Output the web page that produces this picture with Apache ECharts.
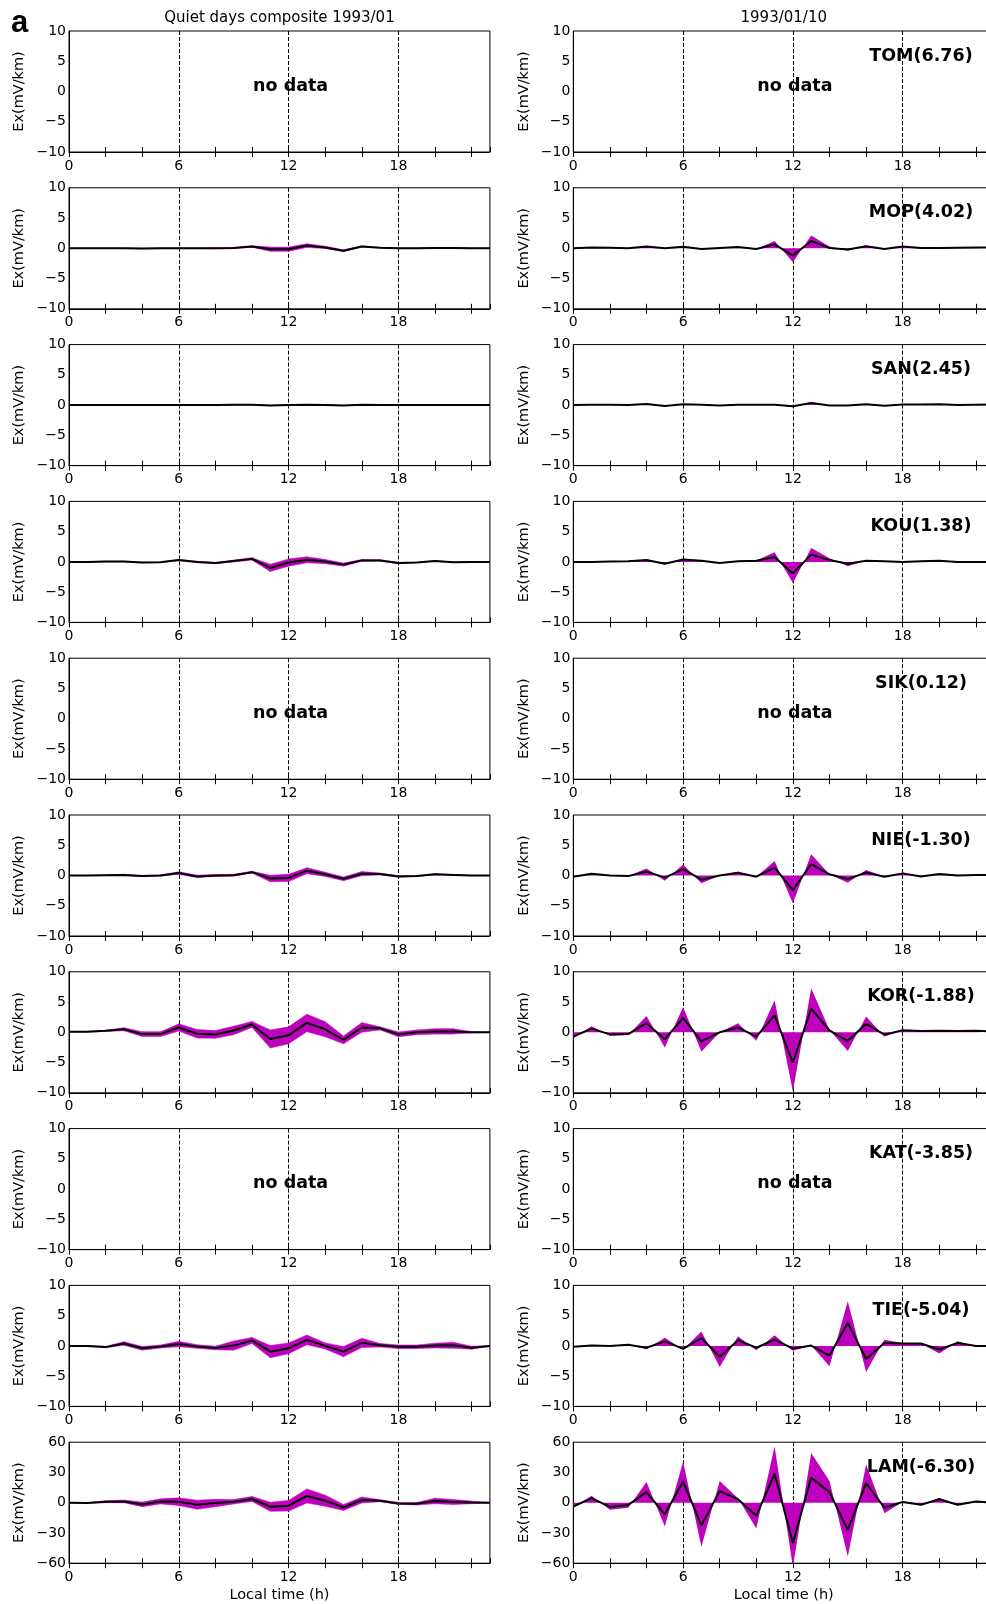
<!DOCTYPE html>
<html>
<head>
<meta charset="utf-8">
<script src="https://cdn.jsdelivr.net/npm/echarts@6/dist/echarts.min.js"></script>
<style>
  html, body { margin: 0; padding: 0; background: #fff; overflow: hidden; }
  /* the right-hand panels run past the page edge, so the canvas is wider than the page */
  #chart { width: 1000px; height: 1604px; }
</style>
</head>
<body>
<div id="chart"></div>
<script>
// Hourly Ex electric field (mV/km) at African equatorial-zone stations:
// left column = quiet-days composite for 1993/01 (mean with spread band),
// right column = the single day 1993/01/10 (hourly value plus peak fill).

const hours = [0, 1, 2, 3, 4, 5, 6, 7, 8, 9, 10, 11, 12, 13, 14, 15, 16, 17, 18, 19, 20, 21, 22, 23];
const xTickLabels = [0, 6, 12, 18];

const stations = ['TOM', 'MOP', 'SAN', 'KOU', 'SIK', 'NIE', 'KOR', 'KAT', 'TIE', 'LAM'];
const latitudes = ['6.76', '4.02', '2.45', '1.38', '0.12', '-1.30', '-1.88', '-3.85', '-5.04', '-6.30'];
const yLimits = [10, 10, 10, 10, 10, 10, 10, 10, 10, 60];

// ---- quiet-days composite: mean and half-width of the band ----
const mopQuietMean   = [0, 0, 0, 0, -0.05, 0, 0, 0, 0, 0.05, 0.3, -0.15, -0.15, 0.45, 0.15, -0.4, 0.3, 0.1, 0, 0, 0.05, 0.05, 0, 0];
const mopQuietSpread = [0.02, 0.02, 0.02, 0.02, 0.05, 0.05, 0.05, 0.05, 0.08, 0.1, 0.12, 0.35, 0.35, 0.3, 0.2, 0.15, 0.1, 0.05, 0.05, 0.05, 0.05, 0.05, 0.03, 0.02];
const sanQuietMean   = [0, 0, 0, 0, 0, 0, 0, 0, 0.02, 0.05, 0.05, -0.05, 0, 0.05, 0.02, -0.05, 0.05, 0, 0, 0, 0, 0, 0, 0];
const sanQuietSpread = [0.02, 0.02, 0.02, 0.02, 0.02, 0.02, 0.02, 0.02, 0.02, 0.02, 0.02, 0.03, 0.03, 0.03, 0.02, 0.02, 0.02, 0.02, 0.02, 0.02, 0.02, 0.02, 0.02, 0.02];
const kouQuietMean   = [0, 0, 0.05, 0.05, -0.1, -0.05, 0.3, 0, -0.2, 0.15, 0.5, -1.0, -0.1, 0.35, 0.05, -0.45, 0.25, 0.25, -0.2, -0.1, 0.15, -0.05, 0, 0];
const kouQuietSpread = [0.02, 0.02, 0.05, 0.05, 0.05, 0.05, 0.1, 0.1, 0.1, 0.15, 0.2, 0.6, 0.6, 0.5, 0.35, 0.25, 0.15, 0.1, 0.1, 0.05, 0.05, 0.05, 0.02, 0.02];
const nieQuietMean   = [0, 0, 0.05, 0.1, -0.1, 0, 0.4, -0.15, 0, 0.05, 0.55, -0.5, -0.4, 0.8, 0.2, -0.55, 0.3, 0.25, -0.15, -0.1, 0.2, 0.1, 0, 0];
const nieQuietSpread = [0.02, 0.02, 0.05, 0.1, 0.1, 0.1, 0.2, 0.2, 0.15, 0.15, 0.15, 0.55, 0.6, 0.5, 0.35, 0.3, 0.35, 0.15, 0.1, 0.05, 0.1, 0.05, 0.02, 0.02];
const korQuietMean   = [0.1, 0.1, 0.25, 0.5, -0.3, -0.3, 0.8, -0.25, -0.35, 0.3, 1.3, -1.1, -0.5, 1.55, 0.5, -1.25, 0.8, 0.65, -0.35, 0, 0.15, 0.15, 0, 0];
const korQuietSpread = [0.05, 0.05, 0.1, 0.25, 0.4, 0.4, 0.6, 0.7, 0.65, 0.7, 0.5, 1.5, 1.4, 1.45, 1.25, 0.65, 0.8, 0.25, 0.4, 0.4, 0.45, 0.45, 0.1, 0.05];
const tieQuietMean   = [0, 0, -0.2, 0.4, -0.4, -0.1, 0.3, -0.1, -0.35, 0.05, 0.9, -0.95, -0.4, 1.0, 0, -0.95, 0.5, 0.1, -0.15, -0.15, 0.05, 0.1, -0.3, 0];
const tieQuietSpread = [0.05, 0.05, 0.1, 0.3, 0.3, 0.25, 0.45, 0.3, 0.3, 0.75, 0.5, 1.0, 0.9, 0.8, 0.5, 0.85, 0.75, 0.3, 0.3, 0.3, 0.4, 0.5, 0.25, 0.05];
const lamQuietMean   = [0, -0.3, 1, 1.3, -1.7, 1.3, 1, -2, -0.3, 1, 3.7, -4, -3, 6.7, 2, -4.7, 2.7, 2, -0.7, -1, 1.7, 0.7, 0.3, 0];
const lamQuietSpread = [0.3, 0.3, 1, 1.3, 2.3, 2.5, 3.8, 4.5, 3.7, 2.2, 2.5, 4.5, 5.3, 7, 5.5, 3, 3, 1, 1, 1.3, 2.8, 2.5, 1.3, 0.3];

// ---- 1993/01/10: hourly value and peak excursion ----
const mopDayEx   = [0, 0.15, 0.1, 0, 0.3, 0, 0.25, -0.1, 0.05, 0.2, -0.1, 0.65, -1.2, 1.2, 0.05, -0.2, 0.35, -0.1, 0.3, 0.05, 0.05, 0.1, 0.15, 0.15];
const mopDayPeak = [0, 0.15, 0.1, 0, 0.3, 0, 0.3, -0.1, 0.05, 0.2, -0.1, 1.2, -2.3, 2.1, 0.3, -0.4, 0.45, -0.15, 0.3, 0.05, 0.05, 0.1, 0.15, 0.15];
const sanDayEx   = [0, 0.05, 0.05, 0, 0.2, -0.15, 0.15, 0.05, -0.05, 0.05, 0.05, 0.05, -0.2, 0.35, -0.05, -0.05, 0.15, -0.1, 0.1, 0.1, 0.15, 0, 0.05, 0.1];
const sanDayPeak = [0, 0.05, 0.05, 0, 0.2, -0.15, 0.15, 0.05, -0.05, 0.05, 0.05, 0.05, -0.35, 0.5, -0.05, -0.05, 0.15, -0.1, 0.1, 0.1, 0.15, 0, 0.05, 0.1];
const kouDayEx   = [0, 0, 0.05, 0.1, 0.3, -0.3, 0.4, 0.2, -0.2, 0.1, 0.2, 0.8, -1.9, 1.2, 0.3, -0.3, 0.2, 0.1, 0, 0.1, 0.2, 0, 0, 0];
const kouDayPeak = [0, 0, 0.05, 0.1, 0.35, -0.35, 0.45, 0.2, -0.2, 0.1, 0.25, 1.6, -3.5, 2.3, 0.6, -0.7, 0.25, 0.1, 0, 0.1, 0.2, 0, 0, 0];
const nieDayEx   = [-0.2, 0.3, 0, -0.1, 0.65, -0.35, 1.05, -0.7, 0, 0.45, -0.2, 1.3, -2.4, 1.9, 0.2, -0.6, 0.5, -0.2, 0.35, -0.15, 0.25, 0, 0.1, 0.1];
const nieDayPeak = [-0.2, 0.3, 0, -0.1, 1.15, -0.85, 1.8, -1.3, 0, 0.6, -0.2, 2.4, -4.6, 3.5, 0.2, -1.2, 0.9, -0.2, 0.35, -0.15, 0.25, 0, 0.1, 0.1];
const korDayEx   = [-0.7, 0.6, -0.35, -0.3, 1.5, -1.15, 2.4, -1.5, 0, 0.8, -0.7, 2.8, -5.0, 3.9, 0.3, -1.45, 1.4, -0.4, 0.35, 0.2, 0.25, 0.2, 0.25, 0.15];
const korDayPeak = [-1.0, 1.0, -0.55, -0.45, 2.7, -2.5, 4.2, -3.2, 0, 1.5, -1.4, 5.3, -9.8, 7.3, 0.4, -3.1, 2.6, -0.7, 0.35, 0.2, 0.25, 0.2, 0.25, 0.15];
const tieDayEx   = [-0.15, 0.05, 0, 0.2, -0.3, 0.75, -0.5, 1.3, -1.8, 0.95, -0.3, 1.05, -0.45, 0.05, -1.6, 3.8, -2.15, 0.5, 0.4, 0.4, -0.6, 0.5, 0, 0];
const tieDayPeak = [-0.15, 0.05, 0, 0.2, -0.55, 1.35, -0.6, 2.4, -3.5, 1.6, -0.7, 1.75, -0.8, 0.05, -3.35, 7.4, -4.3, 1.0, 0.5, 0.4, -1.25, 0.75, 0, 0];
const lamDayEx   = [-3.8, 4.5, -4.2, -2.2, 10.5, -11.5, 21, -22.5, 11.5, 3.5, -13, 28.7, -40, 24.8, 10.5, -27, 19.5, -5, 0.8, -2, 3.5, -2, 1.2, 0];
const lamDayPeak = [-5, 7, -7, -5, 20.5, -23.7, 40.5, -43.8, 21.5, 4.5, -25.5, 56, -64, 49.3, 21.5, -53.3, 38, -10.5, 0.8, -2, 4.8, -2.5, 1.2, 0];

// station order -> series (null = no data)
const quietMeans   = [null, mopQuietMean, sanQuietMean, kouQuietMean, null, nieQuietMean, korQuietMean, null, tieQuietMean, lamQuietMean];
const quietSpreads = [null, mopQuietSpread, sanQuietSpread, kouQuietSpread, null, nieQuietSpread, korQuietSpread, null, tieQuietSpread, lamQuietSpread];
const dayValues    = [null, mopDayEx, sanDayEx, kouDayEx, null, nieDayEx, korDayEx, null, tieDayEx, lamDayEx];
const dayPeaks     = [null, mopDayPeak, sanDayPeak, kouDayPeak, null, nieDayPeak, korDayPeak, null, tieDayPeak, lamDayPeak];

// ---- layout ----
const FONT = 'DejaVu Sans';
const MAGENTA = '#bf00bf';
const ROW_TOP0 = 31, ROW_STEP = 156.8, PANEL_H = 121;
const PX_PER_HOUR = 18.3;
const PANEL_W = 23 * PX_PER_HOUR;
const COL_LEFT = [69, 573.3];

const minus = v => (v < 0 ? '\u2212' + Math.abs(v) : String(v));
const pairs = arr => hours.map((h, i) => [h, arr[i]]);

// band between lower and upper curves, one quadrilateral per hour step
function bandItem(params, api) {
  const a = api.coord([api.value(0), api.value(2)]);
  const b = api.coord([api.value(3), api.value(5)]);
  const c = api.coord([api.value(3), api.value(4)]);
  const d = api.coord([api.value(0), api.value(1)]);
  return { type: 'polygon', shape: { points: [a, b, c, d] },
    style: { fill: MAGENTA, stroke: MAGENTA, lineWidth: 0.5 } };
}

const grid = [], xAxis = [], yAxis = [], series = [], graphic = [];

stations.forEach((name, r) => {
  const top = ROW_TOP0 + ROW_STEP * r;
  const lim = yLimits[r];
  for (let c = 0; c < 2; c++) {
    const g = r * 2 + c;
    const left = COL_LEFT[c];
    grid.push({ left: left, top: top, width: PANEL_W, height: PANEL_H,
      show: true, borderColor: '#000', borderWidth: 1, backgroundColor: 'transparent' });

    // labelled axis with outward ticks every 2 h
    xAxis.push({ gridIndex: g, type: 'value', min: 0, max: 23, interval: 2, position: 'bottom',
      axisLine: { show: true, onZero: false, lineStyle: { color: '#000', width: 1 } },
      axisTick: { show: true, inside: false, length: 5, lineStyle: { color: '#000', width: 1 } },
      axisLabel: { show: true, margin: 7, fontFamily: FONT, fontSize: 14, color: '#000',
        showMaxLabel: false,
        formatter: v => (xTickLabels.indexOf(v) >= 0 ? minus(v) : '') },
      splitLine: { show: false } });
    // inward half of the ticks
    xAxis.push({ gridIndex: g, type: 'value', min: 0, max: 23, interval: 2, position: 'bottom',
      axisLine: { show: false, onZero: false },
      axisTick: { show: true, inside: true, length: 5, lineStyle: { color: '#000', width: 1 } },
      axisLabel: { show: false }, splitLine: { show: false } });
    // dashed guide lines at 0, 6, 12, 18 h
    xAxis.push({ gridIndex: g, type: 'value', min: 0, max: 23, interval: 6, position: 'bottom',
      axisLine: { show: false, onZero: false }, axisTick: { show: false }, axisLabel: { show: false },
      splitLine: { show: true, showMaxLine: false, lineStyle: { color: '#000', width: 1, type: [4, 2] } } });

    yAxis.push({ gridIndex: g, type: 'value', min: -lim, max: lim, interval: lim / 2,
      axisLine: { show: true, onZero: false, lineStyle: { color: '#000', width: 1 } },
      axisTick: { show: false },
      axisLabel: { margin: 3, fontFamily: FONT, fontSize: 14, color: '#000', formatter: minus },
      splitLine: { show: false },
      name: 'Ex(mV/km)', nameLocation: 'middle', nameGap: 42,
      nameTextStyle: { fontFamily: FONT, fontSize: 14.5, color: '#000' } });

    const xi = g * 3;
    if (c === 0) {
      const mean = quietMeans[r], spread = quietSpreads[r];
      if (mean) {
        const lower = mean.map((m, i) => m - spread[i]);
        const upper = mean.map((m, i) => m + spread[i]);
        const steps = hours.slice(0, -1).map((h, i) =>
          [h, lower[i], upper[i], hours[i + 1], lower[i + 1], upper[i + 1]]);
        series.push({ type: 'custom', xAxisIndex: xi, yAxisIndex: g, silent: true, z: 2,
          data: steps, encode: { x: [0, 3], y: [1, 2, 4, 5] }, renderItem: bandItem });
        series.push({ type: 'line', xAxisIndex: xi, yAxisIndex: g, data: pairs(mean), symbol: 'none',
          lineStyle: { color: '#000', width: 2 }, z: 5 });
      }
    } else {
      const vals = dayValues[r], peaks = dayPeaks[r];
      if (vals) {
        series.push({ type: 'line', xAxisIndex: xi, yAxisIndex: g, data: pairs(peaks), symbol: 'none', silent: true,
          lineStyle: { width: 0, opacity: 0 }, areaStyle: { color: MAGENTA, opacity: 1, origin: 'auto' }, z: 2 });
        series.push({ type: 'line', xAxisIndex: xi, yAxisIndex: g, data: pairs(vals), symbol: 'none',
          lineStyle: { color: '#000', width: 2 }, z: 5 });
      }
      graphic.push({ type: 'text', x: left + 19 * PX_PER_HOUR, y: top + 25, z: 10,
        style: { text: name + '(' + latitudes[r] + ')', fill: '#000',
          font: 'bold 17.5px "' + FONT + '"', textAlign: 'center', textVerticalAlign: 'middle' } });
    }
    if (!(c === 0 ? quietMeans[r] : dayValues[r])) {
      graphic.push({ type: 'text', x: left + 12 * PX_PER_HOUR + 2, y: top + 55, z: 10,
        style: { text: 'no data', fill: '#000', font: 'bold 17.5px "' + FONT + '"',
          textAlign: 'center', textVerticalAlign: 'middle' } });
    }
  }
});

// column headings, panel letter and x-axis titles
const colCentre = c => COL_LEFT[c] + PANEL_W / 2;
graphic.push({ type: 'text', x: colCentre(0), y: 18,
  style: { text: 'Quiet days composite 1993/01', fill: '#000', font: '15px "' + FONT + '"', textAlign: 'center', textVerticalAlign: 'middle' } });
graphic.push({ type: 'text', x: colCentre(1), y: 18,
  style: { text: '1993/01/10', fill: '#000', font: '15px "' + FONT + '"', textAlign: 'center', textVerticalAlign: 'middle' } });
graphic.push({ type: 'text', x: 11, y: 23,
  style: { text: 'a', fill: '#000', font: 'bold 31px "Liberation Sans"', textAlign: 'left', textVerticalAlign: 'middle' } });
[0, 1].forEach(c => {
  graphic.push({ type: 'text', x: colCentre(c), y: 1595,
    style: { text: 'Local time (h)', fill: '#000', font: '14.5px "' + FONT + '"', textAlign: 'center', textVerticalAlign: 'middle' } });
});

const chart = echarts.init(document.getElementById('chart'), null, { renderer: 'canvas' });
chart.setOption({
  animation: false,
  backgroundColor: '#fff',
  textStyle: { fontFamily: FONT },
  grid, xAxis, yAxis, series, graphic
});
</script>
</body>
</html>
